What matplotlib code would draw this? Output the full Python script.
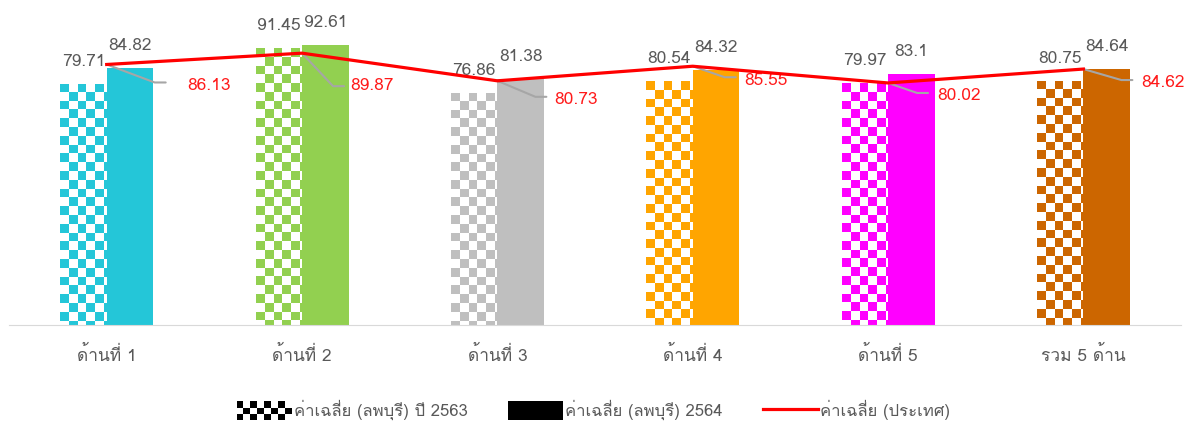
import math
import numpy as np
import matplotlib
matplotlib.use('Agg')
import matplotlib.pyplot as plt
from matplotlib import font_manager as fm
from matplotlib.ft2font import FT2Font
from matplotlib.colors import to_rgba
from matplotlib.patches import Rectangle, Patch
from matplotlib.lines import Line2D
from matplotlib.legend_handler import HandlerBase

# ข้อมูล
categories = ['ด้านที่ 1', 'ด้านที่ 2', 'ด้านที่ 3', 'ด้านที่ 4', 'ด้านที่ 5', 'รวม 5 ด้าน']
avg_2563 = [79.71, 91.45, 76.86, 80.54, 79.97, 80.75]
avg_2564 = [84.82, 92.61, 81.38, 84.32, 83.1, 84.64]
avg_country = [86.13, 89.87, 80.73, 85.55, 80.02, 84.62]
legend_labels = ['ค่าเฉลี่ย (ลพบุรี) ปี 2563', 'ค่าเฉลี่ย (ลพบุรี) 2564', 'ค่าเฉลี่ย (ประเทศ)']

colors = ['#24C6D8', '#92D050', '#BFBFBF', '#FFA500', '#FF00FF', '#CC6600']
text_gray = '#595959'

# หาฟอนต์ที่มีอักษรไทย
thai = None
for f in fm.fontManager.ttflist:
    try:
        if FT2Font(f.fname).get_char_index(ord('ด')):
            thai = f.name
            break
    except Exception:
        pass
plt.rcParams['font.family'] = [thai, 'DejaVu Sans'] if thai else ['DejaVu Sans']


class CheckerHandler(HandlerBase):
    def create_artists(self, legend, orig_handle, xdescent, ydescent,
                       width, height, fontsize, trans):
        nx, ny = 8, 3
        cw, ch = width / nx, height / ny
        arts = []
        for i in range(nx):
            for j in range(ny):
                if (i + j) % 2 == 0:
                    arts.append(Rectangle((-xdescent + i * cw, -ydescent + j * ch), cw, ch,
                                          facecolor='black', edgecolor='none', transform=trans))
        return arts


fig = plt.figure(figsize=(11.87, 4.25), dpi=100)
ax = fig.add_axes([0.0076, 0.2353, 0.9874, 0.7117])

x = np.arange(len(categories))
w = 0.238

# แท่งปี 2563 (ลายตาหมากรุก)
bars_old = ax.bar(x - w / 2, avg_2563, w, color='none', edgecolor='none')
cw, ch = 0.0445, 2.9
for p, c in zip(bars_old, colors):
    x0, pw, ph = p.get_x(), p.get_width(), p.get_height()
    nc = int(np.ceil(pw / cw))
    nr = int(np.ceil(ph / ch))
    grid = np.add.outer(np.arange(nr), np.arange(nc)) % 2
    rgba = np.ones((nr, nc, 4))
    rgba[grid == 0] = to_rgba(c)
    im = ax.imshow(rgba, extent=(x0, x0 + nc * cw, ph - nr * ch, ph), origin='upper',
                   aspect='auto', interpolation='nearest', zorder=2)
    im.set_clip_path(p)

# แท่งปี 2564
bars_new = ax.bar(x + w / 2, avg_2564, w, color=colors, zorder=2)

# เส้นค่าเฉลี่ยประเทศ
ax.plot(x, avg_country, color='red', lw=2.3, zorder=4)

for bars in (bars_old, bars_new):
    for p in bars:
        v = p.get_height()
        ax.annotate(str(v), (p.get_x() + p.get_width() / 2, v), xytext=(0, 18),
                    textcoords='offset pixels', ha='center', va='baseline',
                    fontsize=12.5, color=text_gray)

# ป้ายค่าเฉลี่ยประเทศ พร้อมเส้นโยง
corner = [(48, -18), (31, -33), (38, -16), (32, -11), (29, -10), (38, -11)]
label_off = [(81, -22), (48, -33), (57, -19), (52, -15), (49, -13), (58, -14)]
for xi, v, (cx, cy), (lx, ly) in zip(x, avg_country, corner, label_off):
    ang = math.degrees(math.atan2(cy, cx))
    ax.annotate('', (xi, v), xytext=(cx + 11, cy), textcoords='offset pixels',
                arrowprops=dict(arrowstyle='-', color='#A6A6A6', lw=1.5, shrinkA=0, shrinkB=0,
                                connectionstyle=f'angle,angleA=0,angleB={ang},rad=0'),
                zorder=3)
    ax.annotate(str(v), (xi, v), xytext=(lx, ly), textcoords='offset pixels',
                ha='left', va='center', fontsize=12.5, color='#FF1A1A')

ax.set_xlim(-0.5, len(categories) - 0.5)
ax.set_ylim(0, 100)
ax.set_xticks(x)
ax.set_xticklabels(categories, fontsize=12.5, color=text_gray)
ax.tick_params(axis='x', length=0, pad=15)
ax.set_yticks([])
for s in ('top', 'right', 'left'):
    ax.spines[s].set_visible(False)
ax.spines['bottom'].set_color('#D9D9D9')

checker_proxy = Patch(facecolor='black')
handles = [checker_proxy, Patch(facecolor='black'), Line2D([], [], color='red', lw=2.3)]
fig.legend(handles, legend_labels, handler_map={checker_proxy: CheckerHandler()},
           loc='center', bbox_to_anchor=(0.5, 0.035), ncol=3, frameon=False,
           fontsize=12, labelcolor=text_gray, handlelength=3.3, handleheight=1.3,
           handletextpad=0.15, columnspacing=2.4)

plt.savefig('out.png', dpi=100)
